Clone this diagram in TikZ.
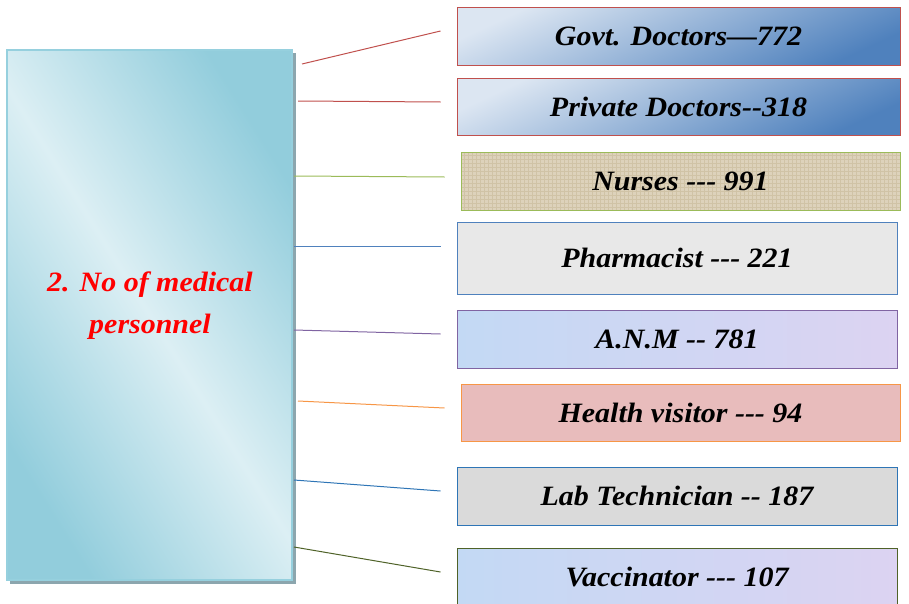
\documentclass[tikz,border=0pt]{standalone}
\usepackage{fontspec}
\setmainfont{Liberation Serif}[FakeStretch=1.07]
\usetikzlibrary{patterns}

\definecolor{mainDark}{HTML}{92CDDC}
\definecolor{mainLight}{HTML}{DCEFF4}
\definecolor{mainEdge}{HTML}{96D0DE}
\definecolor{mainShadow}{HTML}{8CA6AE}
\definecolor{docLight}{HTML}{DCE6F2}
\definecolor{docDark}{HTML}{4F81BD}
\definecolor{docEdge}{HTML}{C0504D}
\definecolor{nurseFill}{HTML}{DDD2BB}
\definecolor{nurseWeave}{HTML}{D0C3A6}
\definecolor{nurseEdge}{HTML}{9BBB59}
\definecolor{pharmFill}{HTML}{E8E8E8}
\definecolor{pharmEdge}{HTML}{4F81BD}
\definecolor{anmBlue}{HTML}{C3D9F4}
\definecolor{anmLilac}{HTML}{DCD3F2}
\definecolor{anmEdge}{HTML}{8064A2}
\definecolor{hvFill}{HTML}{E8BCBC}
\definecolor{hvEdge}{HTML}{F79646}
\definecolor{labFill}{HTML}{DADADA}
\definecolor{labEdge}{HTML}{2E75B6}
\definecolor{vacEdge}{HTML}{4F6228}

\begin{document}
\begin{tikzpicture}[x=0.75pt,y=0.75pt,yscale=-1,xscale=1,
    item/.style={draw, line width=0.75pt, inner sep=0pt, minimum width=330pt, minimum height=43.5pt,
      font=\fontsize{21}{25}\selectfont\bfseries\itshape},
    doc/.style={item, draw=docEdge, top color=docLight, bottom color=docDark, shading angle=25},
    lilac/.style={item, left color=anmBlue, right color=anmLilac},
    link/.style={line width=0.75pt}]
\useasboundingbox (0,0) rectangle (909,603);

%Shape: Shadow of the main box
\fill[mainShadow] (10,53) rectangle (296,584);
%Shape: Main box
\node[draw=mainEdge, line width=1.5pt, minimum width=213.75pt, minimum height=397.5pt,
  top color=mainDark, bottom color=mainDark, middle color=mainLight, shading angle=-58] (main) at (149.5,315) {};
% Text Node
\node[text=red, align=center, font=\fontsize{21}{31.5}\selectfont\bfseries\itshape] (title) at (150,306) {2. No of medical\\personnel};

%Shape: Rectangle
\node[doc, minimum width=332.25pt] (govt) at (678.5,36) {Govt. Doctors\textemdash772};
%Shape: Rectangle
\node[doc, minimum width=332.25pt, minimum height=42.75pt] (priv) at (678.5,106.5) {Private Doctors-{}-318};
%Shape: Rectangle
\node[item, draw=nurseEdge, minimum width=329.25pt, preaction={fill=nurseFill}, pattern=grid, pattern color=nurseWeave] (nurse) at (680.5,181) {Nurses -{}-{}- 991};
%Shape: Rectangle
\node[item, draw=pharmEdge, fill=pharmFill, minimum height=54pt] (pharm) at (677,258) {Pharmacist -{}-{}- 221};
%Shape: Rectangle
\node[lilac, draw=anmEdge] (anm) at (677,339) {A.N.M -{}- 781};
%Shape: Rectangle
\node[item, draw=hvEdge, fill=hvFill, minimum width=329.25pt, minimum height=42.75pt] (hv) at (680.5,412.5) {Health visitor -{}-{}- 94};
%Shape: Rectangle
\node[item, draw=labEdge, fill=labFill] (lab) at (677,496) {Lab Technician -{}- 187};
%Shape: Rectangle
\node[lilac, draw=vacEdge] (vac) at (677,577) {Vaccinator -{}-{}- 107};

%Straight Lines
\draw[link, docEdge] ([shift={(9,15)}]main.north east) -- ([shift={(-16,-5)}]govt.west);
%Straight Lines
\draw[link, docEdge] ([shift={(5,52)}]main.north east) -- ([shift={(-16,-4.5)}]priv.west);
%Straight Lines
\draw[link, nurseEdge] ([shift={(1,127)}]main.north east) -- ([shift={(-16,-4)}]nurse.west);
%Straight Lines
\draw[link, pharmEdge] ([shift={(1,197)}]main.north east) -- ([shift={(-16,-12)}]pharm.west);
%Straight Lines
\draw[link, anmEdge] ([shift={(1,281)}]main.north east) -- ([shift={(-16,-5)}]anm.west);
%Straight Lines
\draw[link, hvEdge] ([shift={(5,352)}]main.north east) -- ([shift={(-16,-4.5)}]hv.west);
%Straight Lines
\draw[link, labEdge] ([shift={(1,431)}]main.north east) -- ([shift={(-16,-5)}]lab.west);
%Straight Lines
\draw[link, vacEdge] ([shift={(1,498)}]main.north east) -- ([shift={(-16,-5)}]vac.west);

\end{tikzpicture}
\end{document}
